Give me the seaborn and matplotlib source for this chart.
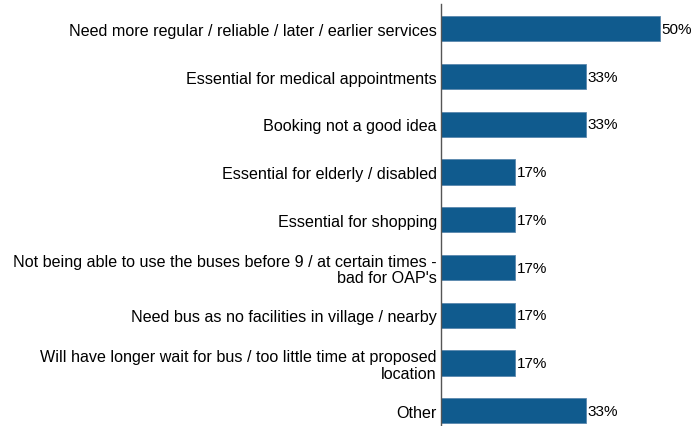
import matplotlib
matplotlib.use("Agg")
import matplotlib.pyplot as plt
import seaborn as sns
import pandas as pd

categories = [
    "Need more regular / reliable / later / earlier services",
    "Essential for medical appointments",
    "Booking not a good idea",
    "Essential for elderly / disabled",
    "Essential for shopping",
    "Not being able to use the buses before 9 / at certain times -\nbad for OAP's",
    "Need bus as no facilities in village / nearby",
    "Will have longer wait for bus / too little time at proposed\nlocation",
    "Other",
]
values = [50, 33, 33, 17, 17, 17, 17, 17, 33]

df = pd.DataFrame({"reason": categories, "pct": values})

sns.set_style("white")
plt.rcParams["font.family"] = ["Liberation Sans", "DejaVu Sans"]

W, H = 693, 427
fig = plt.figure(figsize=(W / 100, H / 100), dpi=100)
left = 441 / W
ax = fig.add_axes([left, 0.0, 1 - left, 1 - 5 / H])

bar_color = "#105B8E"
sns.barplot(data=df, x="pct", y="reason", color=bar_color, width=0.53,
            saturation=1, ax=ax, edgecolor="#5A88AE", linewidth=0.6)

px_per_unit = 219 / 50
ax.set_xlim(0, (W - 441) / px_per_unit)
ax.set_ylim(8.32, -0.52)

for i, v in enumerate(values):
    ax.text(v + 0.4, i, f"{v}%", va="center", ha="left", fontsize=11, color="black")

ax.set_xlabel("")
ax.set_ylabel("")
ax.set_xticks([])
ax.tick_params(axis="y", length=0, pad=3, labelsize=11.6, labelcolor="black")
for t in ax.get_yticklabels():
    t.set_linespacing(1.12)
for s in ["top", "right", "bottom"]:
    ax.spines[s].set_visible(False)
ax.spines["left"].set_color("#555555")
ax.spines["left"].set_linewidth(1)

fig.savefig("out.png", dpi=100)
